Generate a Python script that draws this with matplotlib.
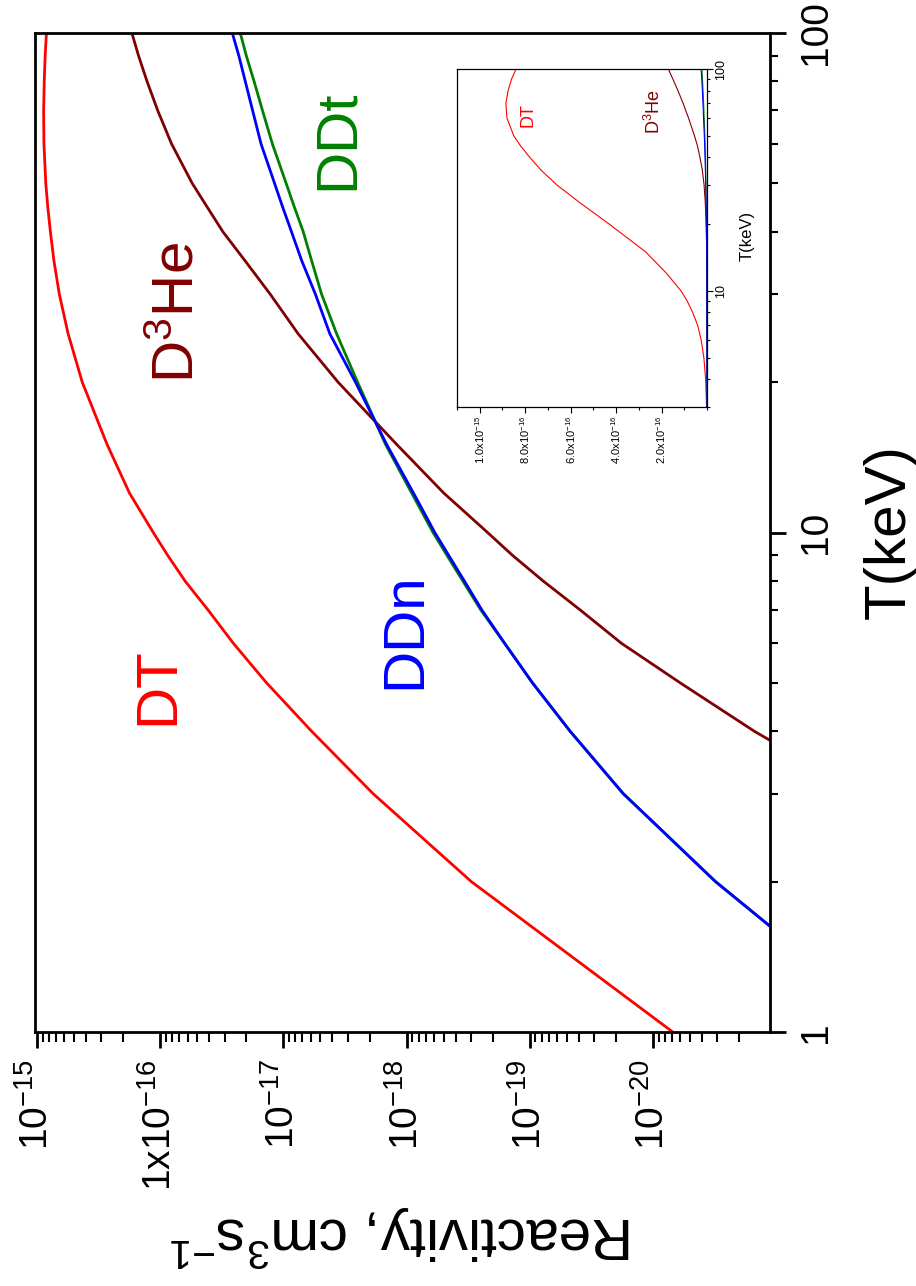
import matplotlib
matplotlib.use("Agg")
import matplotlib.pyplot as plt
from matplotlib.ticker import FixedLocator, FixedFormatter, NullFormatter, LogLocator, MultipleLocator

fam = 'Liberation Sans'
plt.rcParams['font.family'] = [fam, 'DejaVu Sans']
plt.rcParams['mathtext.fontset'] = 'custom'
plt.rcParams['mathtext.rm'] = fam
plt.rcParams['mathtext.it'] = fam + ':italic'
plt.rcParams['mathtext.bf'] = fam + ':bold'
plt.rcParams['mathtext.default'] = 'regular'
plt.rcParams['axes.unicode_minus'] = False

# ---------------- data (T in keV, reactivity in cm^3/s) ----------------
T_grid = [1, 2, 3, 4, 5, 6, 7, 8, 9, 10, 12, 15, 20, 25, 30, 35, 40, 45, 50, 60, 70, 80, 90, 100]

dt = [6.9e-21, 2.98e-19, 1.87e-18, 5.9e-18, 1.37e-17, 2.55e-17, 4.1e-17, 6.3e-17,
      8.7e-17, 1.14e-16, 1.78e-16, 2.7e-16, 4.3e-16, 5.6e-16, 6.6e-16, 7.3e-16,
      7.8e-16, 8.2e-16, 8.5e-16, 8.8e-16, 8.85e-16, 8.75e-16, 8.6e-16, 8.4e-16]

T_d3he = [3, 4, 5, 6, 7, 8, 9, 10, 12, 15, 20, 25, 30, 35, 40, 45, 50, 60, 70, 80, 90, 100]
d3he = [2.0e-22, 1.5e-21, 6.0e-21, 1.8e-20, 3.9e-20, 7.8e-20, 1.38e-19, 2.2e-19,
        5.0e-19, 1.2e-18, 3.6e-18, 7.6e-18, 1.28e-17, 2.05e-17, 3.1e-17, 4.2e-17,
        5.5e-17, 8.1e-17, 1.05e-16, 1.28e-16, 1.5e-16, 1.7e-16]

ddn = [1.0e-22, 3.1e-21, 1.74e-20, 4.7e-20, 9.5e-20, 1.6e-19, 2.45e-19, 3.4e-19,
       4.55e-19, 5.9e-19, 8.8e-19, 1.45e-18, 2.6e-18, 4.2e-18, 5.5e-18, 7.1e-18,
       8.6e-18, 1.02e-17, 1.18e-17, 1.52e-17, 1.78e-17, 2.04e-17, 2.3e-17, 2.6e-17]

ddt = [1.0e-22, 3.1e-21, 1.74e-20, 4.7e-20, 9.5e-20, 1.6e-19, 2.5e-19, 3.5e-19,
       4.7e-19, 6.1e-19, 9.1e-19, 1.48e-18, 2.5e-18, 3.7e-18, 4.9e-18, 5.9e-18,
       6.9e-18, 8.2e-18, 9.5e-18, 1.23e-17, 1.48e-17, 1.73e-17, 2.0e-17, 2.24e-17]

main_xticks = [1e-15, 1e-16, 1e-17, 1e-18, 1e-19, 1e-20]
main_xticklabels = ['$10^{-15}$', '1x10$^{-16}$', '$10^{-17}$', '$10^{-18}$', '$10^{-19}$', '$10^{-20}$']
main_yticks = [1, 10, 100]
main_yticklabels = ['1', '10', '100']

inset_xticks = [2e-16, 4e-16, 6e-16, 8e-16, 1e-15]
inset_xticklabels = ['2.0x10$^{-16}$', '4.0x10$^{-16}$', '6.0x10$^{-16}$', '8.0x10$^{-16}$', '1.0x10$^{-15}$']
inset_yticks = [10, 100]
inset_yticklabels = ['10', '100']

RED = '#FF0000'
BROWN = '#800000'
BLUE = '#0000FF'
GREEN = '#008000'

W, H = 916, 1286
fig = plt.figure(figsize=(W / 100, H / 100), dpi=100)


def fx(px):
    return px / W


def fy(py):
    return 1 - py / H


# ---------------- main axes ----------------
ax = fig.add_axes([fx(35), fy(1032), fx(770) - fx(35), fy(33) - fy(1032)])
ax.set_xscale('log')
ax.set_yscale('log')
ax.plot(dt, T_grid, color=RED, lw=2)
ax.plot(d3he, T_d3he, color=BROWN, lw=2)
ax.plot(ddt, T_grid, color=GREEN, lw=2)
ax.plot(ddn, T_grid, color=BLUE, lw=2)
ax.set_xlim(1.04e-15, 1.12e-21)
ax.set_ylim(1, 100)

for s in ax.spines.values():
    s.set_linewidth(2)

ax.xaxis.set_major_locator(FixedLocator(main_xticks))
ax.xaxis.set_major_formatter(FixedFormatter(main_xticklabels))
ax.xaxis.set_minor_locator(LogLocator(base=10, subs=[2, 3, 4, 5, 6, 7, 8, 9], numticks=50))
ax.xaxis.set_minor_formatter(NullFormatter())
ax.yaxis.set_major_locator(FixedLocator(main_yticks))
ax.yaxis.set_major_formatter(FixedFormatter(main_yticklabels))
ax.yaxis.set_minor_locator(LogLocator(base=10, subs=[2, 3, 4, 5, 6, 7, 8, 9], numticks=50))
ax.yaxis.set_minor_formatter(NullFormatter())

ax.tick_params(axis='x', which='both', direction='out', bottom=True, top=False,
               labelbottom=True, labelrotation=90)
ax.tick_params(axis='x', which='major', length=11.5, width=2, labelsize=28, pad=8)
ax.tick_params(axis='x', which='minor', length=7, width=1.5)
ax.tick_params(axis='y', which='both', direction='out', left=False, right=True,
               labelleft=False, labelright=True, labelrotation=90)
ax.tick_params(axis='y', which='major', length=11.5, width=2, labelsize=28, pad=9)
ax.tick_params(axis='y', which='minor', length=5.5, width=1.5)
for lab in ax.get_yticklabels():
    lab.set_va('center')

fig.text(fx(402), fy(1236), 'Reactivity, cm$^3$s$^{-1}$', rotation=180,
         ha='center', va='center', fontsize=42)
fig.text(fx(890), fy(532), 'T(keV)', rotation=90, ha='center', va='center', fontsize=42)

# in-plot labels
fig.text(fx(158), fy(686), 'DT', color=RED, rotation=90, ha='center', va='center', fontsize=42)
fig.text(fx(178), fy(313), 'D$^3$He', color=BROWN, rotation=90, ha='center', va='center', fontsize=42)
fig.text(fx(338), fy(140), 'DDt', color=GREEN, rotation=90, ha='center', va='center', fontsize=42)
fig.text(fx(405), fy(631), 'DDn', color=BLUE, rotation=90, ha='center', va='center', fontsize=42)

# ---------------- inset ----------------
axin = fig.add_axes([fx(457), fy(407), fx(707) - fx(457), fy(69) - fy(407)])
axin.set_yscale('log')
axin.plot(dt, T_grid, color=RED, lw=0.8)
axin.plot(d3he, T_d3he, color=BROWN, lw=0.8)
axin.plot(ddt, T_grid, color=GREEN, lw=0.8)
axin.plot(ddn, T_grid, color=BLUE, lw=0.8)
axin.set_xlim(1.1e-15, 0)
axin.set_ylim(3, 100)
for s in axin.spines.values():
    s.set_linewidth(0.9)

axin.xaxis.set_major_locator(FixedLocator(inset_xticks))
axin.xaxis.set_major_formatter(FixedFormatter(inset_xticklabels))
axin.xaxis.set_minor_locator(MultipleLocator(1e-16))
axin.yaxis.set_major_locator(FixedLocator(inset_yticks))
axin.yaxis.set_major_formatter(FixedFormatter(inset_yticklabels))
axin.yaxis.set_minor_locator(LogLocator(base=10, subs=[2, 3, 4, 5, 6, 7, 8, 9], numticks=50))
axin.yaxis.set_minor_formatter(NullFormatter())
axin.tick_params(axis='x', which='both', direction='out', bottom=True, top=False,
                 labelrotation=90, labelsize=8, pad=2)
axin.tick_params(axis='x', which='major', length=4, width=0.8)
axin.tick_params(axis='x', which='minor', length=2.5, width=0.8)
axin.tick_params(axis='y', which='both', direction='out', left=False, right=True,
                 labelleft=False, labelright=True, labelrotation=90, labelsize=9, pad=2)
axin.tick_params(axis='y', which='major', length=4, width=0.8)
axin.tick_params(axis='y', which='minor', length=2.5, width=0.8)
for lab in axin.get_yticklabels():
    lab.set_va('center')

fig.text(fx(747), fy(236), 'T(keV)', rotation=90, ha='center', va='center', fontsize=12)
fig.text(fx(528), fy(115), 'DT', color=RED, rotation=90, ha='center', va='center', fontsize=13)
fig.text(fx(654), fy(112), 'D$^3$He', color=BROWN, rotation=90, ha='center', va='center', fontsize=13)

fig.savefig('out.png', dpi=100)
